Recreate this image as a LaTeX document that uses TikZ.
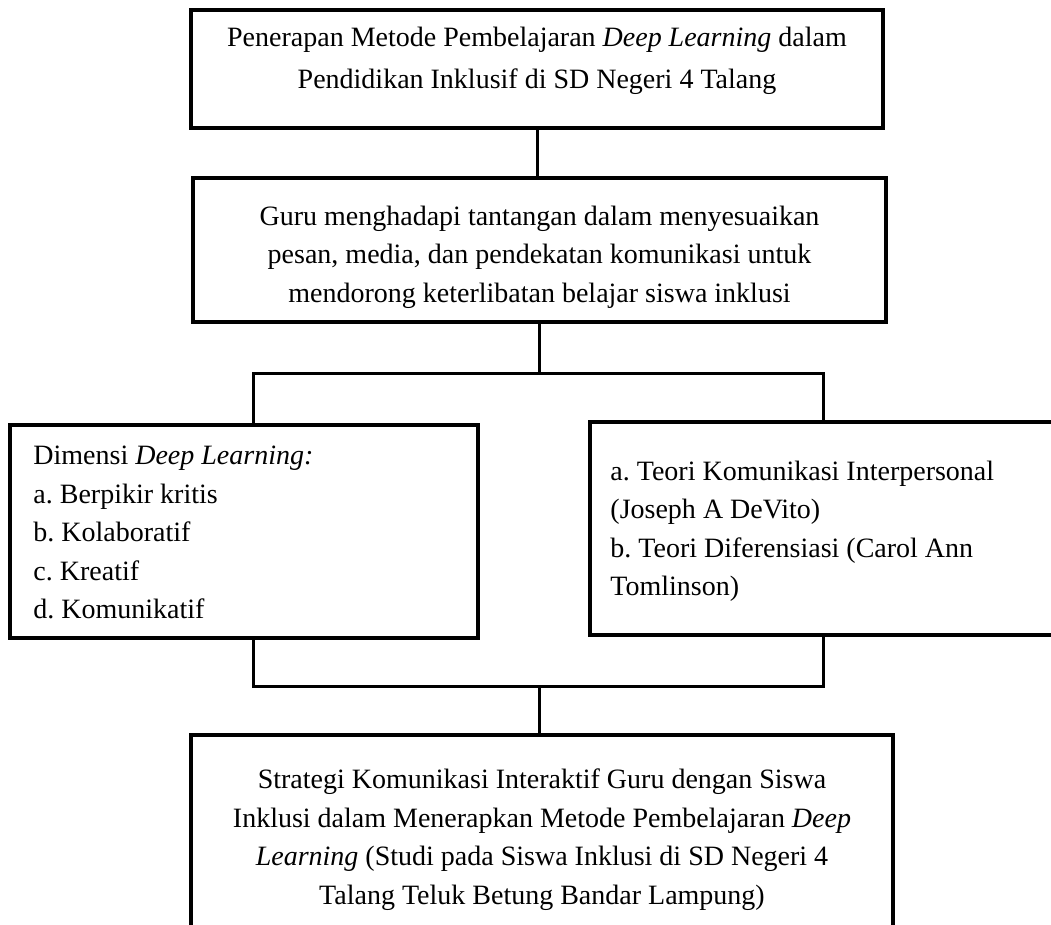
\documentclass[tikz,border=0pt]{standalone}
\usepackage{fontspec}
\setmainfont{Liberation Serif}
\begin{document}
\begin{tikzpicture}[x=1pt,y=-1pt,
  box/.style={draw, line width=3.5pt, inner sep=0pt},
  txt/.style={inner sep=0pt, font=\fontsize{28}{38.5}\selectfont\frenchspacing},
  link/.style={line width=3pt}]
\useasboundingbox (0,0) rectangle (1051,924);
% boxes
\node[box, minimum width=692pt, minimum height=118pt] (top) at (537,69) {};
\node[box, minimum width=693pt, minimum height=144pt] (b2) at (539.5,250) {};
\node[box, minimum width=468pt, minimum height=213pt] (left) at (244,531.5) {};
\node[box, minimum width=470pt, minimum height=213pt] (right) at (825,528.5) {};
\node[box, minimum width=702pt, minimum height=205pt] (final) at (542,837.5) {};
% texts
\node[txt, align=center, font=\fontsize{28}{42}\selectfont] (topt) at ([yshift=8pt]top.center)
  {Penerapan Metode Pembelajaran \textit{Deep Learning} dalam\\Pendidikan Inklusif di SD Negeri 4 Talang};
\node[txt, align=center] (b2t) at ([yshift=-7pt]b2.center)
  {Guru menghadapi tantangan dalam menyesuaikan\\pesan, media, dan pendekatan komunikasi untuk\\mendorong keterlibatan belajar siswa inklusi};
\node[txt, anchor=west, align=flush left] (leftt) at ([xshift=25pt, yshift=-1pt]left.west)
  {Dimensi \textit{Deep Learning:}\\a. Berpikir kritis\\b. Kolaboratif\\c. Kreatif\\d. Komunikatif};
\node[txt, anchor=west, align=flush left] (rightt) at ([xshift=22pt, yshift=-3pt]right.west)
  {a. Teori Komunikasi Interpersonal\\(Joseph A DeVito)\\b. Teori Diferensiasi (Carol Ann\\Tomlinson)};
\node[txt, align=center] (finalt) at ([yshift=-2pt]final.center)
  {Strategi Komunikasi Interaktif Guru dengan Siswa\\Inklusi dalam Menerapkan Metode Pembelajaran \textit{Deep}\\\textit{Learning} (Studi pada Siswa Inklusi di SD Negeri 4\\Talang Teluk Betung Bandar Lampung)};
% connectors
\coordinate (barL) at (253,373);
\coordinate (barR) at (823,373);
\coordinate (botL) at (253,686);
\coordinate (botR) at (823,686);
\draw[link] (top.south) -- (top.south |- b2.north);
\draw[link] (b2.south) -- (b2.south |- barL);
\draw[link] (left.north -| barL) -- (barL) -- (barR) -- (right.north -| barR);
\draw[link] (left.south -| botL) -- (botL) -- (botR) -- (right.south -| botR);
\draw[link] (final.north -| b2.south) -- (b2.south |- botL);
\end{tikzpicture}
\end{document}
